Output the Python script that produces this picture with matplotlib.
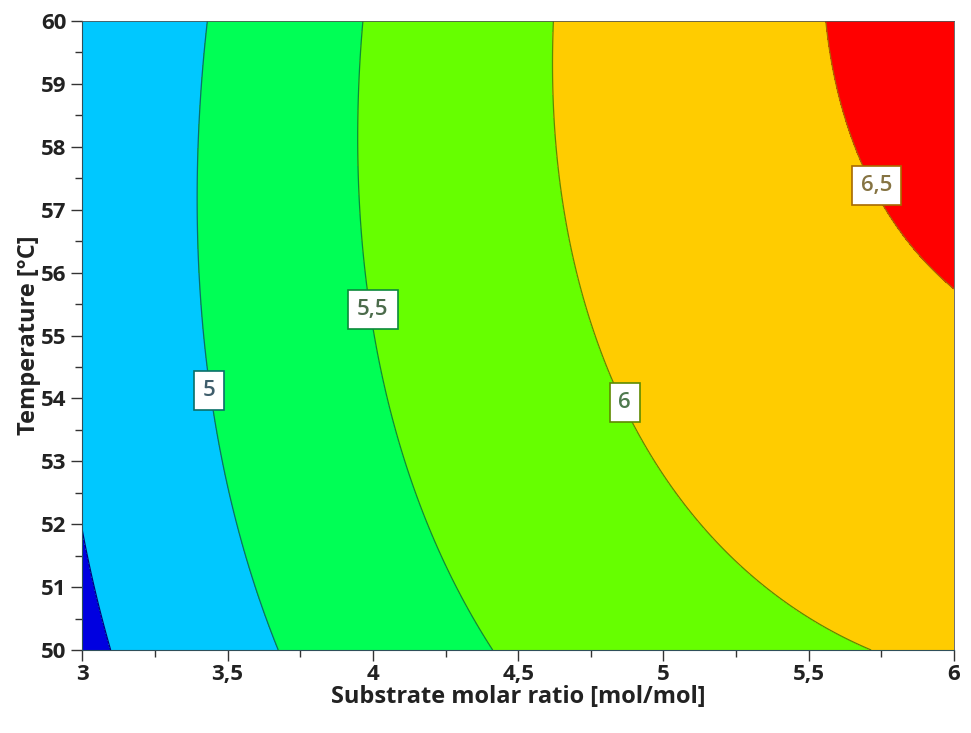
import matplotlib.pyplot as plt
import numpy as np
from matplotlib.ticker import MultipleLocator, FuncFormatter

plt.rcParams['font.family'] = ['Open Sans', 'DejaVu Sans']

# points where the response crosses each level: molar ratio (x), temperature (y)
levels = [4.5, 5.0, 5.5, 6.0, 6.5]
x_45 = [3.095, 3.0]
y_45 = [50.0, 51.8]
x_50 = [3.422, 3.396, 3.403, 3.419, 3.450, 3.497, 3.543, 3.606, 3.675]
y_50 = [60.0, 58.0, 56.0, 55.0, 54.0, 53.0, 52.0, 51.0, 50.0]
x_55 = [3.967, 3.953, 3.976, 4.007, 4.047, 4.093, 4.156, 4.254, 4.414]
y_55 = [60.0, 58.0, 56.0, 55.0, 54.0, 53.0, 52.0, 51.0, 50.0]
x_60 = [4.627, 4.638, 4.678, 4.757, 4.860, 5.011, 5.171, 5.377, 5.687]
y_60 = [60.0, 58.0, 56.0, 55.0, 54.0, 53.0, 52.0, 51.0, 50.0]
x_65 = [5.587, 5.635, 5.733, 5.917, 6.0]
y_65 = [60.0, 58.0, 57.0, 56.0, 55.75]

# labelled levels and where their boxes sit
label_levels = [5.0, 5.5, 6.0, 6.5]
label_pos = [(3.436, 54.13), (4.0, 55.41), (4.867, 53.93), (5.734, 57.39)]

fill_colors = ['#0000e0', '#00c8ff', '#00ff55', '#66ff00', '#ffcc00', '#ff0000']
line_colors = ['#00007a', '#0b6f6a', '#0a8a3a', '#5f8a00', '#a86a00']
text_colors = ['#3f5d6b', '#4b6b4b', '#4f7a4f', '#857342']

# quadratic response surface through the crossing points
px = np.concatenate([x_45, x_50, x_55, x_60, x_65])
py = np.concatenate([y_45, y_50, y_55, y_60, y_65])
pz = np.concatenate([np.full(len(x_45), 4.5), np.full(len(x_50), 5.0),
                     np.full(len(x_55), 5.5), np.full(len(x_60), 6.0),
                     np.full(len(x_65), 6.5)])
u, v = px - 4.5, py - 55.0
A = np.column_stack([np.ones_like(u), u, v, u * u, v * v, u * v])
coef = np.linalg.lstsq(A, pz, rcond=None)[0]

xs = np.linspace(3, 6, 400)
ys = np.linspace(50, 60, 400)
X, Y = np.meshgrid(xs, ys)
U, V = X - 4.5, Y - 55.0
Z = (coef[0] + coef[1] * U + coef[2] * V + coef[3] * U * U
     + coef[4] * V * V + coef[5] * U * V)

fig = plt.figure(figsize=(9.71, 7.33), dpi=100)
ax = fig.add_axes([0.0848, 0.1132, 0.8977, 0.8581])

bounds = [Z.min() - 1] + levels + [Z.max() + 1]
ax.contourf(X, Y, Z, levels=bounds, colors=fill_colors)
ax.contour(X, Y, Z, levels=levels, colors=line_colors, linewidths=0.9)

for lvl, (lx, ly), tc in zip(label_levels, label_pos, text_colors):
    ec = line_colors[levels.index(lvl)]
    ax.text(lx, ly, f"{lvl:g}".replace('.', ','), fontsize=16, color=tc,
            fontweight='semibold', ha='center', va='center', zorder=5,
            bbox=dict(boxstyle='square,pad=0.4', fc='white', ec=ec, lw=1.2))

ax.set_xlim(3, 6)
ax.set_ylim(50, 60)
ax.xaxis.set_major_locator(MultipleLocator(0.5))
ax.xaxis.set_minor_locator(MultipleLocator(0.25))
ax.yaxis.set_major_locator(MultipleLocator(1))
ax.yaxis.set_minor_locator(MultipleLocator(0.5))
comma = FuncFormatter(lambda val, pos: f"{val:g}".replace('.', ','))
ax.xaxis.set_major_formatter(comma)
ax.yaxis.set_major_formatter(comma)
ax.tick_params(which='major', length=8, width=1, color='#333333',
               labelsize=16, labelcolor='#222222')
ax.tick_params(axis='x', which='major', pad=2)
ax.tick_params(which='minor', length=5, width=1, color='#333333')
for lab in ax.get_xticklabels() + ax.get_yticklabels():
    lab.set_fontweight('bold')
for side in ['left', 'bottom']:
    ax.spines[side].set_color('#2f4f5a')
for side in ['top', 'right']:
    ax.spines[side].set_color('#555555')
    ax.spines[side].set_linewidth(0.6)

ax.set_xlabel('Substrate molar ratio [mol/mol]', fontsize=17,
              fontweight='bold', color='#222222', labelpad=0)
ax.set_ylabel('Temperature [°C]', fontsize=17, fontweight='bold',
              color='#222222', labelpad=0)

fig.savefig('out.png', dpi=100)
